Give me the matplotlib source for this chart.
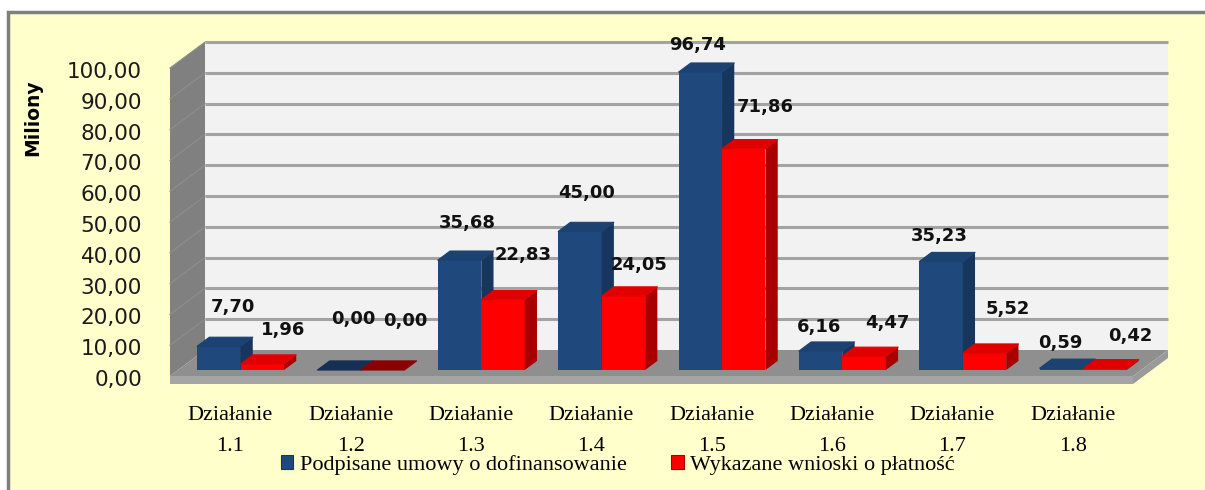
import matplotlib
matplotlib.use("Agg")
import matplotlib.pyplot as plt
from matplotlib.patches import Polygon, Rectangle, Patch
from matplotlib.transforms import ScaledTranslation, blended_transform_factory

categories = ["1.1", "1.2", "1.3", "1.4", "1.5", "1.6", "1.7", "1.8"]
umowy = [7.70, 0.00, 35.68, 45.00, 96.74, 6.16, 35.23, 0.59]
wnioski = [1.96, 0.00, 22.83, 24.05, 71.86, 4.47, 5.52, 0.42]
series_names = ["Podpisane umowy o dofinansowanie", "Wykazane wnioski o płatność"]
yticks = [0, 10, 20, 30, 40, 50, 60, 70, 80, 90, 100]

# label nudges (pixels) from the bar's front top edge
umowy_nudge = [(14, 39), (14, 51), (8, 37), (7, 38), (-3, 27), (-2, 24), (-2, 26), (-1, 25)]
wnioski_nudge = [(21, 34), (23, 49), (20, 45), (16, 31), (21, 42), (23, 33), (23, 44), (25, 33)]

W_PX, H_PX = 1205, 490
fig = plt.figure(figsize=(W_PX / 100, H_PX / 100), dpi=100)
fig.patch.set_facecolor("white")

# yellow chart area with grey frame
fig.patches.append(Rectangle((8 / W_PX, -0.1), 1.2, 1.1 - 12 / H_PX, transform=fig.transFigure,
                             fc="#FFFFCC", ec="#7F7F7F", lw=2.5, zorder=0))

# front plane of the 3d box: x 170..1133 px, value 0 at y=376 px, 100 at y=68 px
left, right, y0px, y100px = 170, 1133, 376, 68
ax = fig.add_axes([left / W_PX, (H_PX - y0px) / H_PX, (right - left) / W_PX, (y0px - y100px) / H_PX])
ax.set_zorder(2)
ax.set_xlim(0, len(categories))
ax.set_ylim(0, 100)
ax.axis("off")

px_x = (right - left) / len(categories)
px_y = (y0px - y100px) / 100.0
DX = 35 / px_x  # full depth in data units
DY = 26 / px_y
n = len(categories)


def poly(pts, color, z, **kw):
    ax.add_patch(Polygon(pts, closed=True, fc=color, ec=kw.pop("ec", "none"), lw=kw.pop("lw", 0),
                         zorder=z, clip_on=False, **kw))


# walls and floor
poly([(DX, DY), (n + DX, DY), (n + DX, 100 + DY), (DX, 100 + DY)], "#F2F2F2", 1)
poly([(0, 0), (0, 100), (DX, 100 + DY), (DX, DY)], "#808080", 1)
for v in yticks[1:]:
    ax.plot([DX, n + DX], [v + DY, v + DY], color="#A3A3A3", lw=2.2, zorder=2, clip_on=False,
            solid_capstyle="butt")
    ax.plot([0, DX], [v, v + DY], color="#8E8E8E", lw=0.8, zorder=2, clip_on=False)
poly([(0, 0), (n, 0), (n + DX, DY), (DX, DY)], "#8F8F8F", 3)
poly([(0, -2.6), (n, -2.6), (n, 0), (0, 0)], "#A5A5A5", 3)
poly([(n, -2.6), (n + DX, DY - 2.6), (n + DX, DY), (n, 0)], "#9A9A9A", 3)

# bars
W = 0.361
GAP = 0.158
t0, tb = 0.23, 0.35
colors = [("#1F497D", "#17365D", "#1C4272"), ("#FF0000", "#A80000", "#E00000")]
zero_top = ["#172F55", "#8B0000"]
off = lambda dx, dy: ax.transData + ScaledTranslation(dx / 100, dy / 100, fig.dpi_scale_trans)

for i in range(n):
    for j, (vals, nudge) in enumerate([(umowy, umowy_nudge), (wnioski, wnioski_nudge)]):
        v = vals[i]
        front, side, top = colors[j]
        if v == 0:
            top = zero_top[j]
        x0 = i + GAP + j * W + DX * t0
        yb = DY * t0
        bx, by = DX * tb, DY * tb
        z = 5 + i * 2 + j
        poly([(x0, yb), (x0 + W, yb), (x0 + W, yb + v), (x0, yb + v)], front, z)
        poly([(x0 + W, yb), (x0 + W, yb + v), (x0 + W + bx, yb + v + by), (x0 + W + bx, yb + by)], side, z)
        poly([(x0, yb + v), (x0 + W, yb + v), (x0 + W + bx, yb + v + by), (x0 + bx, yb + v + by)], top, z,
             ec=top, lw=0.8, joinstyle="round")
        ax.text(x0 + W / 2, yb + v, "{:.2f}".format(v).replace(".", ","), transform=off(*nudge[i]),
                ha="center", va="center", fontsize=13, fontweight="bold", color="#111111",
                family="DejaVu Sans", zorder=40, clip_on=False)

# value axis labels
for v in yticks:
    ax.text(0, v, "{:.2f}".format(v).replace(".", ","), transform=off(-28, -4), ha="right",
            va="center", fontsize=15.5, color="#1A1A1A", family="DejaVu Sans", clip_on=False)
fig.text(33 / W_PX, 1 - 118 / H_PX, "Miliony", rotation=90, ha="center", va="center",
         fontsize=13.5, fontweight="bold", family="DejaVu Sans")

# category labels
tr = blended_transform_factory(ax.transData, fig.transFigure)
for i, c in enumerate(categories):
    ax.text(i + 0.5, 1 - 416 / H_PX, "Działanie", transform=tr, ha="center", va="center",
            fontsize=16, family="Liberation Serif", clip_on=False)
    ax.text(i + 0.5, 1 - 446 / H_PX, c, transform=tr, ha="center", va="center",
            fontsize=16, family="Liberation Serif", clip_on=False)

handles = [Patch(fc=colors[0][0], ec="#17365D", lw=0.8), Patch(fc=colors[1][0], ec="#A80000", lw=0.8)]
fig.legend(handles, series_names, loc="center", bbox_to_anchor=(618 / W_PX, 1 - 465 / H_PX), ncol=2,
           frameon=False, handlelength=0.55, handleheight=0.55, handletextpad=0.3, columnspacing=2.0,
           prop={"family": "Liberation Serif", "size": 16}, borderpad=0)

fig.savefig("out.png", dpi=100)
